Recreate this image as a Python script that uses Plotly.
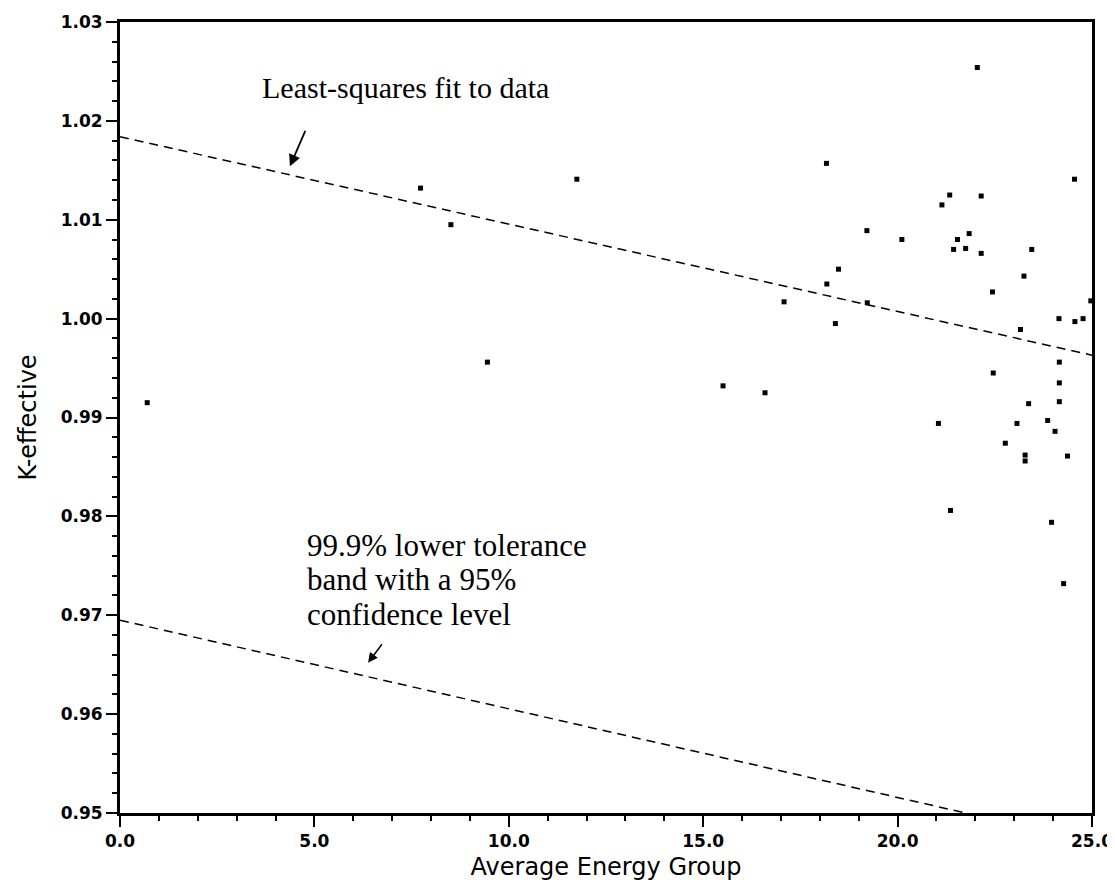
import plotly.graph_objects as go

# Data points
energy = [0.70, 7.73, 8.51, 9.45, 11.75, 15.51, 16.59, 17.08, 18.17, 18.18,
          18.40, 18.48, 19.21, 19.22, 20.11, 21.05, 21.14, 21.34, 21.36, 21.44,
          21.54, 21.75, 21.84, 22.05, 22.15, 22.15, 22.44, 22.46, 22.77, 23.07,
          23.16, 23.25, 23.28, 23.28, 23.37, 23.45, 23.86, 23.96, 24.05, 24.15,
          24.16, 24.16, 24.16, 24.27, 24.37, 24.55, 24.56, 24.77, 24.97]
keff = [0.9915, 1.0132, 1.0095, 0.9956, 1.0141, 0.9932, 0.9925, 1.0017, 1.0157, 1.0035,
        0.9995, 1.0050, 1.0089, 1.0016, 1.0080, 0.9894, 1.0115, 1.0125, 0.9806, 1.0070,
        1.0080, 1.0071, 1.0086, 1.0254, 1.0124, 1.0066, 1.0027, 0.9945, 0.9874, 0.9894,
        0.9989, 1.0043, 0.9862, 0.9856, 0.9914, 1.0070, 0.9897, 0.9794, 0.9886, 1.0000,
        0.9956, 0.9935, 0.9916, 0.9732, 0.9861, 1.0141, 0.9997, 1.0000, 1.0018]

fit_x = [0.0, 25.0]
fit_y = [1.0184, 0.9963]

band_x = [0.0, 21.75]
band_y = [0.9695, 0.9500]

x_ticks = [0, 5, 10, 15, 20, 25]
x_ticktext = ["0.0", "5.0", "10.0", "15.0", "20.0", "25.0"]
y_ticks = [0.95, 0.96, 0.97, 0.98, 0.99, 1.00, 1.01, 1.02, 1.03]
y_ticktext = ["0.95", "0.96", "0.97", "0.98", "0.99", "1.00", "1.01", "1.02", "1.03"]

band_label_lines = ["99.9% lower tolerance", "band with a 95%", "confidence level"]
band_label_y = [0.9771, 0.9736, 0.9701]

fig = go.Figure()

fig.add_trace(go.Scatter(x=fit_x, y=fit_y, mode="lines",
                         line=dict(color="black", width=1.5, dash="9px,6px"),
                         hoverinfo="skip"))
fig.add_trace(go.Scatter(x=band_x, y=band_y, mode="lines",
                         line=dict(color="black", width=1.5, dash="9px,6px"),
                         hoverinfo="skip"))
fig.add_trace(go.Scatter(x=energy, y=keff, mode="markers",
                         marker=dict(symbol="square", size=5, color="black")))

serif = "Liberation Serif"
sans = "DejaVu Sans"

fig.add_annotation(x=3.6, y=1.0234, xref="x", yref="y", xanchor="left", yanchor="middle",
                   text="Least-squares fit to data", showarrow=False,
                   font=dict(family=serif, size=30, color="black"))
for line_text, ly in zip(band_label_lines, band_label_y):
    fig.add_annotation(x=4.76, y=ly, xref="x", yref="y", xanchor="left", yanchor="middle",
                       text=line_text, showarrow=False,
                       font=dict(family=serif, size=31, color="black"))
# hand-drawn style arrows
fig.add_annotation(x=4.37, y=1.0154, xref="x", yref="y", text="", showarrow=True,
                   ax=16, ay=-37, arrowhead=2, arrowsize=1.3, arrowwidth=1.8, arrowcolor="black")
fig.add_annotation(x=6.38, y=0.9652, xref="x", yref="y", text="", showarrow=True,
                   ax=15, ay=-20, arrowhead=2, arrowsize=1.3, arrowwidth=1.5, arrowcolor="black")

fig.update_layout(
    width=1115, height=880,
    margin=dict(l=112, r=31, t=14, b=75),
    paper_bgcolor="white", plot_bgcolor="white",
    showlegend=False,
    xaxis=dict(range=[0, 25], tickvals=x_ticks, ticktext=x_ticktext,
               ticks="outside", ticklen=11, tickwidth=2, tickcolor="black",
               minor=dict(ticks="outside", ticklen=5, tickwidth=1.5, dtick=1, tickcolor="black", showgrid=False),
               showline=True, linewidth=3, linecolor="black", mirror=True,
               showgrid=False, zeroline=False, automargin=False,
               tickfont=dict(family=sans, size=17, color="black", weight="bold"),
               title=dict(text="Average Energy Group", standoff=8,
                          font=dict(family=sans, size=24, color="black"))),
    yaxis=dict(range=[0.95, 1.03], tickvals=y_ticks, ticktext=y_ticktext,
               ticks="outside", ticklen=11, tickwidth=2, tickcolor="black",
               minor=dict(ticks="outside", ticklen=5, tickwidth=1.5, dtick=0.002, tickcolor="black", showgrid=False),
               showline=True, linewidth=3, linecolor="black", mirror=True,
               showgrid=False, zeroline=False, automargin=False,
               tickfont=dict(family=sans, size=17, color="black", weight="bold"),
               title=dict(text="K-effective", standoff=18,
                          font=dict(family=sans, size=24, color="black"))),
)

fig.write_html("out.html")
